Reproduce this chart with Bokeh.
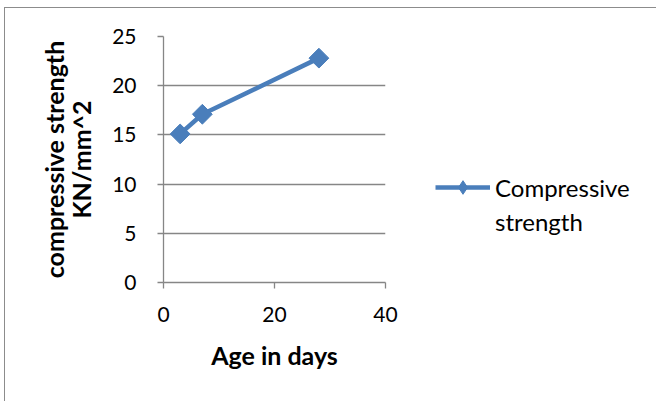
import numpy as np
from bokeh.plotting import figure
from bokeh.models import Range1d, Legend, LegendItem, FixedTicker
from bokeh.embed import file_html
from bokeh.resources import INLINE

age_days = [3, 7, 28]
strength = [15.1, 17.1, 22.8]
x_ticks = [0, 20, 40]
y_ticks = [0, 5, 10, 15, 20, 25]
series_name_lines = ["Compressive", "strength"]
x_title = "Age in days"
y_title = "compressive strength\nKN/mm^2"

FONT = "Lato"
GRID = "#868686"
BLUE = "#4a7ebb"

p = figure(frame_width=222, frame_height=246, output_backend="svg", toolbar_location=None,
           x_range=Range1d(0, 40), y_range=Range1d(0, 25),
           min_border_left=158, min_border_right=10,
           min_border_top=28, min_border_bottom=119)
p.styles = {"border-top": "1px solid #8c8c8c", "border-left": "1px solid #8c8c8c",
            "margin-left": "4px", "margin-top": "7px"}
p.outline_line_color = None
p.background_fill_color = "white"
p.border_fill_color = "white"

r_line = p.line(age_days, strength, line_color=BLUE, line_width=4.5)
r_pts = p.scatter(age_days, strength, marker="square", size=14, angle=0.785398,
                  fill_color=BLUE, line_color=BLUE)

# legend-only proxies (not drawn in the plot): diamond marker, and a blank one for the 2nd label line
leg_pts = p.scatter(x=[np.nan], y=[np.nan], marker="diamond", size=16,
                    fill_color=BLUE, line_color=BLUE)
leg_blank = p.scatter(x=[np.nan], y=[np.nan], marker="circle", size=1,
                      fill_alpha=0, line_alpha=0)

p.xgrid.visible = False
p.ygrid.grid_line_color = GRID
p.ygrid.grid_line_width = 1.3

for ax in (p.xaxis[0], p.yaxis[0]):
    ax.axis_line_color = GRID
    ax.axis_line_width = 1.3
    ax.major_tick_line_color = GRID
    ax.major_tick_line_width = 1.3
    ax.major_tick_out = 6
    ax.major_tick_in = 0
    ax.minor_tick_line_color = None
    ax.major_label_text_font = FONT
    ax.major_label_text_font_size = "21px"
    ax.major_label_text_color = "black"
    ax.axis_label_text_font = FONT
    ax.axis_label_text_font_style = "bold"
    ax.axis_label_text_font_size = "25px"
    ax.axis_label_text_color = "black"

p.xaxis.ticker = FixedTicker(ticks=x_ticks)
p.yaxis.ticker = FixedTicker(ticks=y_ticks)
p.xaxis.axis_label = x_title
p.yaxis.axis_label = y_title
p.yaxis.axis_label_text_line_height = 0.9
p.xaxis.major_label_standoff = 18
p.xaxis.axis_label_standoff = 15
p.yaxis.major_label_standoff = 21
p.yaxis.axis_label_standoff = 13

legend = Legend(items=[LegendItem(label=series_name_lines[0], renderers=[r_line, leg_pts]),
                       LegendItem(label=series_name_lines[1], renderers=[leg_blank])],
                location=(50, 44), glyph_width=55, glyph_height=34, spacing=0,
                label_standoff=5, padding=0, margin=0,
                border_line_color=None, background_fill_alpha=0,
                label_text_font=FONT, label_text_font_size="24px",
                label_text_color="black")
p.add_layout(legend, "right")

open("out.html", "w").write(file_html(p, INLINE))
